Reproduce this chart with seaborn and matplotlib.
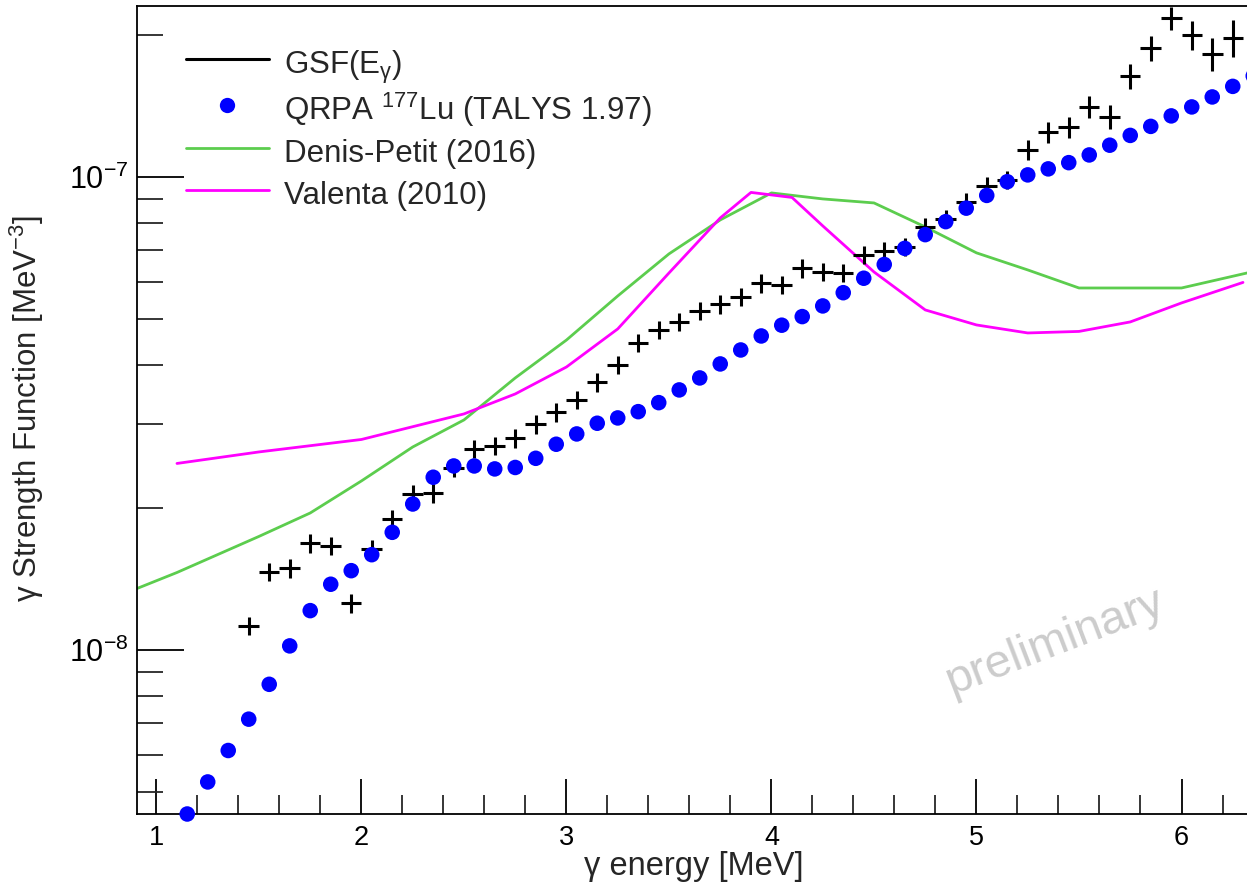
import numpy as np
import matplotlib
import matplotlib.pyplot as plt
import seaborn as sns
from matplotlib.lines import Line2D
from matplotlib.ticker import LogLocator, MultipleLocator, NullFormatter, LogFormatterSciNotation

matplotlib.use('Agg')

# Measured GSF (black crosses), bin centres in MeV
gsf_e = [1.45, 1.55, 1.65, 1.75, 1.85, 1.95, 2.05, 2.15, 2.25, 2.35, 2.45, 2.55, 2.65,
         2.75, 2.85, 2.95, 3.05, 3.15, 3.25, 3.35, 3.45, 3.55, 3.65, 3.75, 3.85, 3.95,
         4.05, 4.15, 4.25, 4.35, 4.45, 4.55, 4.65, 4.75, 4.85, 4.95, 5.05, 5.15, 5.25,
         5.35, 5.45, 5.55, 5.65, 5.75, 5.85, 5.95, 6.05, 6.15, 6.25]
gsf_val = [1.124e-8, 1.464e-8, 1.488e-8, 1.681e-8, 1.661e-8, 1.256e-8, 1.632e-8, 1.889e-8,
           2.134e-8, 2.145e-8, 2.428e-8, 2.660e-8, 2.699e-8, 2.800e-8, 3.000e-8, 3.177e-8,
           3.377e-8, 3.681e-8, 4.004e-8, 4.464e-8, 4.749e-8, 4.945e-8, 5.208e-8, 5.381e-8,
           5.583e-8, 5.960e-8, 5.910e-8, 6.412e-8, 6.306e-8, 6.275e-8, 6.852e-8, 6.982e-8,
           7.122e-8, 7.847e-8, 8.162e-8, 8.867e-8, 9.585e-8, 9.855e-8, 1.141e-7, 1.243e-7,
           1.274e-7, 1.408e-7, 1.341e-7, 1.635e-7, 1.871e-7, 2.165e-7, 1.996e-7, 1.817e-7,
           1.970e-7]
# relative uncertainties (fraction)
gsf_relerr = [0.045, 0.045, 0.045, 0.045, 0.045, 0.045, 0.045, 0.045, 0.045, 0.045,
              0.045, 0.045, 0.045, 0.045, 0.045, 0.045, 0.045, 0.045, 0.045, 0.045,
              0.045, 0.045, 0.045, 0.045, 0.045, 0.045, 0.045, 0.045, 0.045, 0.045,
              0.045, 0.045, 0.045, 0.045, 0.045, 0.045, 0.045, 0.045, 0.05, 0.05,
              0.05, 0.055, 0.06, 0.06, 0.06, 0.055, 0.07, 0.08, 0.09]

# QRPA 177Lu (TALYS 1.97)
qrpa_e = [1.15, 1.25, 1.35, 1.45, 1.55, 1.65, 1.75, 1.85, 1.95, 2.05, 2.15, 2.25, 2.35,
          2.45, 2.55, 2.65, 2.75, 2.85, 2.95, 3.05, 3.15, 3.25, 3.35, 3.45, 3.55, 3.65,
          3.75, 3.85, 3.95, 4.05, 4.15, 4.25, 4.35, 4.45, 4.55, 4.65, 4.75, 4.85, 4.95,
          5.05, 5.15, 5.25, 5.35, 5.45, 5.55, 5.65, 5.75, 5.85, 5.95, 6.05, 6.15, 6.25, 6.35]
qrpa_val = [4.50e-9, 5.26e-9, 6.13e-9, 7.14e-9, 8.46e-9, 1.020e-8, 1.211e-8, 1.377e-8,
            1.471e-8, 1.590e-8, 1.773e-8, 2.035e-8, 2.318e-8, 2.449e-8, 2.449e-8, 2.414e-8,
            2.431e-8, 2.542e-8, 2.722e-8, 2.862e-8, 3.015e-8, 3.094e-8, 3.190e-8, 3.333e-8,
            3.546e-8, 3.759e-8, 4.024e-8, 4.307e-8, 4.611e-8, 4.859e-8, 5.067e-8, 5.337e-8,
            5.692e-8, 6.107e-8, 6.531e-8, 7.063e-8, 7.551e-8, 8.044e-8, 8.590e-8, 9.140e-8,
            9.770e-8, 1.010e-7, 1.040e-7, 1.072e-7, 1.113e-7, 1.167e-7, 1.224e-7, 1.279e-7,
            1.346e-7, 1.406e-7, 1.476e-7, 1.554e-7, 1.635e-7]

# Denis-Petit (2016)
dp_e = [0.9, 1.1, 1.5, 1.75, 2.0, 2.25, 2.5, 2.75, 3.0, 3.25, 3.5, 3.75, 4.0, 4.25,
        4.5, 4.75, 5.0, 5.25, 5.5, 6.0, 6.32]
dp_val = [1.346e-8, 1.458e-8, 1.738e-8, 1.948e-8, 2.277e-8, 2.686e-8, 3.064e-8, 3.759e-8,
          4.521e-8, 5.602e-8, 6.876e-8, 8.112e-8, 9.251e-8, 8.985e-8, 8.811e-8, 7.840e-8,
          6.910e-8, 6.359e-8, 5.824e-8, 5.824e-8, 6.266e-8]

# Valenta (2010)
va_e = [1.1, 1.5, 2.0, 2.5, 2.75, 3.0, 3.25, 3.5, 3.75, 3.9, 4.1, 4.25, 4.5, 4.75,
        5.0, 5.25, 5.5, 5.75, 6.0, 6.3]
va_val = [2.479e-8, 2.622e-8, 2.786e-8, 3.155e-8, 3.477e-8, 3.965e-8, 4.772e-8, 6.266e-8,
          8.190e-8, 9.274e-8, 9.050e-8, 7.880e-8, 6.297e-8, 5.234e-8, 4.865e-8, 4.679e-8,
          4.714e-8, 4.937e-8, 5.415e-8, 5.984e-8]

sns.set_theme(style='ticks')
plt.rcParams['font.family'] = ['Liberation Sans', 'DejaVu Sans']
plt.rcParams['mathtext.fontset'] = 'custom'
plt.rcParams['mathtext.rm'] = 'Liberation Sans'
plt.rcParams['mathtext.it'] = 'Liberation Sans:italic'
plt.rcParams['mathtext.bf'] = 'Liberation Sans:bold'

green = '#5ccd4e'
magenta = '#ff00ff'

fig = plt.figure(figsize=(12.47, 8.85), dpi=100)
ax = fig.add_axes([137 / 1247, 1 - 814 / 885, 1 - 137 / 1247, (814 - 6) / 885])

sns.lineplot(x=dp_e, y=dp_val, color=green, lw=2, ax=ax, sort=False, estimator=None)
sns.lineplot(x=va_e, y=va_val, color=magenta, lw=2, ax=ax, sort=False, estimator=None)

gsf_val_arr = np.array(gsf_val)
ax.errorbar(gsf_e, gsf_val, xerr=0.05, yerr=gsf_val_arr * np.array(gsf_relerr),
            fmt='none', ecolor='black', elinewidth=2.2, capsize=0, zorder=3)

sns.scatterplot(x=qrpa_e, y=qrpa_val, color='blue', s=125, edgecolor='none',
                marker='o', ax=ax, zorder=4, clip_on=False)

ax.set_yscale('log')
ax.set_xlim(0.905, 6.3195)
ax.set_ylim(4.50e-9, 2.298e-7)

ax.xaxis.set_major_locator(MultipleLocator(1))
ax.xaxis.set_minor_locator(MultipleLocator(0.2))
ax.yaxis.set_major_locator(LogLocator(base=10, numticks=10))
ax.yaxis.set_minor_locator(LogLocator(base=10, subs=np.arange(2, 10), numticks=20))
ax.yaxis.set_major_formatter(LogFormatterSciNotation())
ax.yaxis.set_minor_formatter(NullFormatter())

ax.tick_params(axis='x', which='major', direction='in', length=25, width=1.3,
               labelsize=19.5, pad=8, colors='black')
ax.tick_params(axis='x', which='minor', direction='in', length=14, width=1.3)
ax.tick_params(axis='y', which='major', direction='in', length=34, width=1.3,
               labelsize=22, pad=6, colors='black')
ax.tick_params(axis='y', which='minor', direction='in', length=19, width=1.3)

for side in ['left', 'bottom', 'top']:
    ax.spines[side].set_linewidth(1.3)
    ax.spines[side].set_color('black')
ax.spines['right'].set_visible(False)
ax.set_xlabel('')
ax.set_ylabel('')

fig.text(694 / 1247, 1 - 866 / 885, 'γ energy [MeV]', ha='center', va='center',
         fontsize=23.5)
fig.text(27 / 1247, 1 - 408 / 885, 'γ Strength Function [MeV$^{-3}$]', rotation=90,
         ha='center', va='center', fontsize=22.5)

handles = [
    Line2D([], [], color='black', lw=2.2),
    Line2D([], [], color='blue', marker='o', ls='none', markersize=11, markeredgewidth=0),
    Line2D([], [], color=green, lw=2),
    Line2D([], [], color=magenta, lw=2),
]
labels = ['GSF(E$_{\\mathrm{γ}}$)', 'QRPA $^{177}$Lu (TALYS 1.97)',
          'Denis-Petit (2016)', 'Valenta (2010)']
ax.legend(handles, labels, loc='upper left', bbox_to_anchor=(0.0441, 0.952),
          frameon=False, fontsize=22.5, handlelength=2.65, handletextpad=0.5,
          handleheight=1.45, labelspacing=0.15, borderaxespad=0, borderpad=0)

fig.text(1055 / 1247, 1 - 642 / 885, 'preliminary', rotation=21, ha='center', va='center',
         fontsize=34, color='#cccccc')

fig.savefig('out.png', dpi=100)
print("Chart saved as 'out.png'")
